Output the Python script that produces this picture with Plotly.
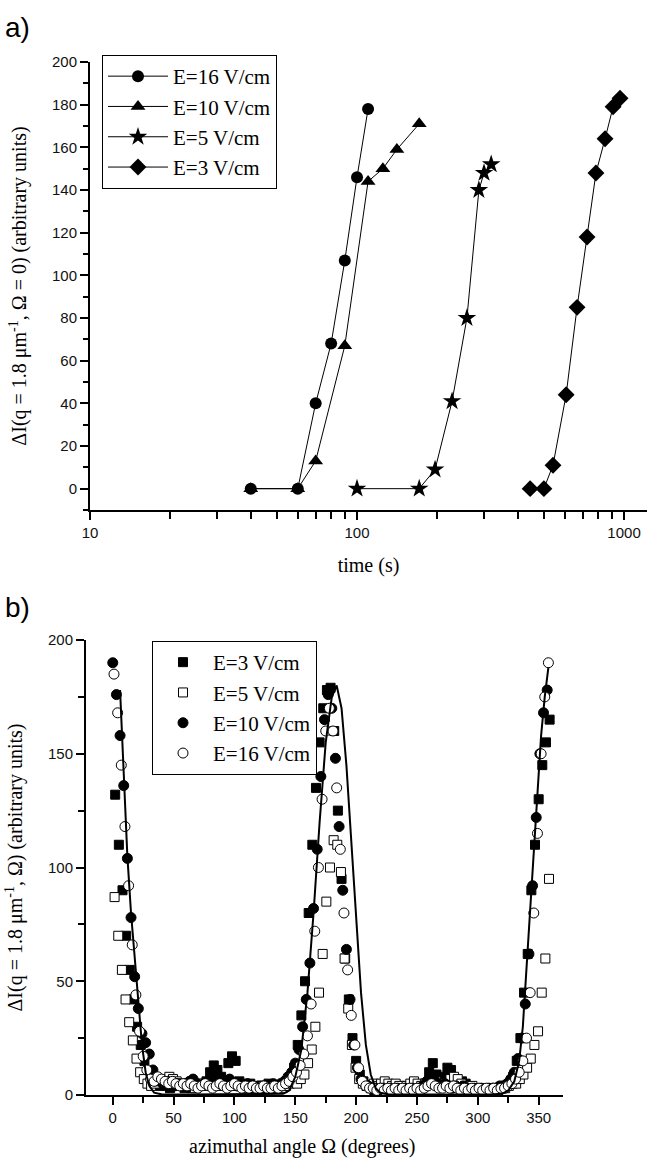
import plotly.graph_objects as go

# ---- panel a: growth of the peak intensity vs time ----
t_16 = [40, 60, 70, 80, 90, 100, 110]
dI_16 = [0, 0, 40, 68, 107, 146, 178]
t_10 = [40, 60, 70, 90, 110, 125, 141, 171]
dI_10 = [0, 0, 13, 67, 144, 150, 159, 171]
t_5 = [100, 171, 196, 227, 258, 286, 299, 318]
dI_5 = [0, 0, 9, 41, 80, 140, 148, 152]
t_3 = [445, 501, 542, 607, 667, 727, 785, 849, 910, 966]
dI_3 = [0, 0, 11, 44, 85, 118, 148, 164, 179, 183]

# ---- panel b: azimuthal profiles ----
angle_e10 = list(range(0, 360, 3))
angle_e16 = list(range(1, 360, 3))
angle_e3 = list(range(2, 360, 3))
angle_e5 = [a + 1.5 for a in range(0, 360, 3)]

I_e10 = [190, 176, 158, 136, 104, 78, 52, 38, 27, 23,
         18, 11, 7, 6, 5, 6, 5, 4, 5, 4,
         5, 6, 7, 5, 4, 5, 6, 7, 8, 6,
         5, 6, 7, 5, 4, 5, 4, 5, 4, 3,
         4, 4, 3, 4, 5, 4, 5, 6, 8, 10,
         14, 20, 30, 42, 58, 82, 108, 140, 165, 176,
         170, 148, 118, 90, 64, 42, 22, 12, 7, 5,
         4, 3, 3, 2, 3, 2, 3, 2, 3, 2,
         3, 2, 3, 2, 3, 4, 6, 8, 7, 5,
         4, 5, 4, 3, 4, 3, 4, 3, 2, 3,
         2, 3, 2, 3, 3, 3, 4, 4, 5, 7,
         10, 16, 25, 40, 62, 92, 122, 150, 168, 178]
I_e16 = [185, 168, 145, 118, 92, 66, 44, 28, 17, 11,
         7, 6, 8, 7, 6, 5, 6, 5, 4, 5,
         4, 5, 4, 3, 4, 5, 4, 3, 4, 5,
         4, 3, 4, 5, 4, 3, 4, 3, 4, 3,
         3, 4, 3, 3, 4, 3, 4, 5, 6, 8,
         10, 13, 18, 26, 40, 72, 100, 130, 160, 170,
         160, 135, 108, 80, 55, 35, 22, 12, 6, 4,
         3, 3, 2, 3, 2, 3, 2, 3, 2, 3,
         2, 3, 2, 3, 2, 3, 4, 5, 4, 3,
         3, 4, 3, 4, 3, 2, 3, 2, 3, 2,
         3, 2, 3, 2, 3, 2, 3, 3, 4, 5,
         7, 10, 15, 25, 45, 80, 115, 150, 175, 190]
I_e3 = [132, 110, 90, 70, 55, 42, 30, 22, 15, 10,
        6, 5, 4, 5, 4, 3, 4, 5, 4, 3,
        4, 3, 4, 5, 4, 6, 10, 13, 11, 8,
        6, 14, 17, 15, 6, 5, 4, 5, 4, 3,
        3, 4, 5, 4, 3, 4, 5, 6, 8, 12,
        22, 35, 50, 80, 110, 135, 155, 170, 178, 179,
        160, 125, 95, 60, 42, 25, 15, 9, 6, 4,
        3, 2, 3, 2, 3, 4, 3, 2, 3, 4,
        3, 2, 3, 4, 3, 5, 10, 14, 9, 5,
        8, 12, 11, 5, 4, 6, 5, 3, 3, 2,
        3, 2, 3, 2, 2, 3, 3, 4, 5, 8,
        15, 25, 45, 62, 90, 110, 130, 145, 155, 165]
I_e5 = [87, 70, 55, 42, 32, 24, 16, 10, 7, 5,
        4, 5, 6, 7, 6, 8, 7, 6, 5, 4,
        5, 4, 3, 4, 5, 4, 5, 6, 5, 4,
        5, 6, 5, 4, 5, 4, 3, 4, 3, 4,
        3, 4, 3, 4, 3, 4, 3, 4, 5, 6,
        5, 7, 9, 14, 20, 30, 45, 62, 85, 100,
        112, 110, 98, 60, 38, 22, 12, 7, 5, 4,
        4, 5, 4, 5, 6, 5, 4, 5, 4, 3,
        4, 5, 6, 5, 4, 5, 6, 5, 6, 5,
        4, 5, 7, 8, 7, 5, 4, 3, 4, 3,
        3, 2, 3, 2, 3, 2, 3, 3, 4, 5,
        5, 7, 9, 12, 16, 22, 28, 45, 60, 95]

fit_angle = [6, 9, 12, 15, 18, 21, 24, 27, 30, 34, 40, 60, 90, 120, 140, 145, 150,
             155, 160, 165, 170, 175, 180, 184, 188, 192, 196, 200, 204, 208, 212,
             216, 220, 226, 250, 280, 310, 320, 325, 330, 334, 337, 340, 343, 346,
             349, 352, 355, 358]
fit_I = [178, 140, 105, 80, 60, 40, 22, 10, 4, 1, 0.3, 0.2, 0.2, 0.2, 0.5, 2, 8,
         20, 45, 80, 120, 155, 175, 180, 170, 145, 110, 75, 45, 22, 9,
         3, 1, 0.3, 0.2, 0.2, 0.2, 0.5, 2, 6, 15, 30, 55, 80, 110,
         135, 158, 175, 188]

W, H = 647, 1161
SERIF = "Liberation Serif, Times New Roman, serif"
SANS = "Liberation Sans, Arial, sans-serif"

fig = go.Figure()

series_a = [
    ("E=16 V/cm", t_16, dI_16, "circle", 12),
    ("E=10 V/cm", t_10, dI_10, "triangle-up", 13),
    ("E=5 V/cm", t_5, dI_5, "star", 14),
    ("E=3 V/cm", t_3, dI_3, "diamond", 13),
]
for name, x, y, sym, size in series_a:
    fig.add_trace(go.Scatter(
        x=x, y=y, name=name, mode="lines+markers",
        line=dict(color="black", width=1),
        marker=dict(symbol=sym, size=size, color="black"),
        xaxis="x", yaxis="y", legend="legend", cliponaxis=False))

series_b = [
    ("E=3 V/cm", angle_e3, I_e3, "square", "black", 9),
    ("E=5 V/cm", angle_e5, I_e5, "square", "white", 9),
    ("E=10 V/cm", angle_e10, I_e10, "circle", "black", 10),
    ("E=16 V/cm", angle_e16, I_e16, "circle", "white", 10),
]
for name, x, y, sym, fill, size in series_b:
    fig.add_trace(go.Scatter(
        x=x, y=y, name=name, mode="markers",
        marker=dict(symbol=sym, size=size, color=fill,
                    line=dict(color="black", width=1)),
        xaxis="x2", yaxis="y2", legend="legend2", cliponaxis=False))

fig.add_trace(go.Scatter(
    x=fit_angle, y=fit_I, mode="lines", showlegend=False,
    line=dict(color="black", width=2), xaxis="x2", yaxis="y2"))

axis_style = dict(showline=True, linecolor="black", linewidth=2, ticks="outside",
                  ticklen=8, tickwidth=1.5, tickcolor="black", showgrid=False,
                  zeroline=False, automargin=False,
                  tickfont=dict(family=SANS, size=15, color="#111"))
title_font = dict(family=SERIF, size=20, color="black")

fig.update_layout(
    width=W, height=H, margin=dict(l=0, r=0, t=0, b=0),
    paper_bgcolor="white", plot_bgcolor="white",
    xaxis=dict(axis_style, type="log", range=[1, 3.086],
               domain=[90 / W, 1.0], anchor="y",
               tickvals=[10, 100, 1000], ticktext=["10", "100", "1000"],
               minor=dict(ticks="outside", ticklen=7, tickwidth=1.5, tickcolor="black",
                          tickvals=[20, 30, 40, 50, 60, 70, 80, 90,
                                    200, 300, 400, 500, 600, 700, 800, 900]),
               title=dict(text="time (s)", font=title_font, standoff=18)),
    yaxis=dict(axis_style, range=[-10, 200],
               domain=[1 - 510 / H, 1 - 62 / H], anchor="x",
               tickvals=list(range(0, 201, 20)),
               minor=dict(ticks="outside", ticklen=5, tickwidth=1.5, tickcolor="black",
                          dtick=10, tick0=0),
               title=dict(text="ΔI(q = 1.8 μm<sup>-1</sup>, Ω = 0) (arbitrary units)",
                          font=title_font, standoff=20)),
    xaxis2=dict(axis_style, range=[-22, 370],
                domain=[86 / W, 563 / W], anchor="y2",
                tickvals=list(range(0, 351, 50)),
                minor=dict(ticks="outside", ticklen=6, tickwidth=1.5, tickcolor="black",
                           dtick=25, tick0=-25)),
    yaxis2=dict(axis_style, range=[0, 200],
                domain=[1 - 1095 / H, 1 - 640 / H], anchor="x2",
                tickvals=list(range(0, 201, 50)),
                minor=dict(ticks="outside", ticklen=6, tickwidth=1.5, tickcolor="black",
                           dtick=25, tick0=0),
                title=dict(text="ΔI(q = 1.8 μm<sup>-1</sup>, Ω) (arbitrary units)",
                           font=title_font, standoff=20)),
    legend=dict(x=102 / W, y=1 - 55 / H, xanchor="left", yanchor="top",
                bgcolor="white", bordercolor="black", borderwidth=1,
                font=dict(family=SERIF, size=21, color="black"),
                tracegroupgap=0, itemwidth=60),
    legend2=dict(x=152 / W, y=1 - 641 / H, xanchor="left", yanchor="top",
                 bgcolor="white", bordercolor="black", borderwidth=1,
                 font=dict(family=SERIF, size=21, color="black"),
                 tracegroupgap=0, itemwidth=50),
    annotations=[
        dict(text="a)", x=0.004, y=1 - 28 / H, xref="paper", yref="paper",
             xanchor="left", yanchor="middle", showarrow=False,
             font=dict(family=SANS, size=28, color="black")),
        dict(text="b)", x=0.004, y=1 - 607 / H, xref="paper", yref="paper",
             xanchor="left", yanchor="middle", showarrow=False,
             font=dict(family=SANS, size=28, color="black")),
        dict(text="azimuthal angle Ω (degrees)", x=302 / W, y=1 - 1146 / H,
             xref="paper", yref="paper", xanchor="center", yanchor="middle",
             showarrow=False, font=title_font),
    ],
)

# the page body keeps a default 8px margin; drop it so the figure fills the window
fig.write_html("out.html", config={"displayModeBar": False},
               post_script="document.body.style.margin = '0';")
